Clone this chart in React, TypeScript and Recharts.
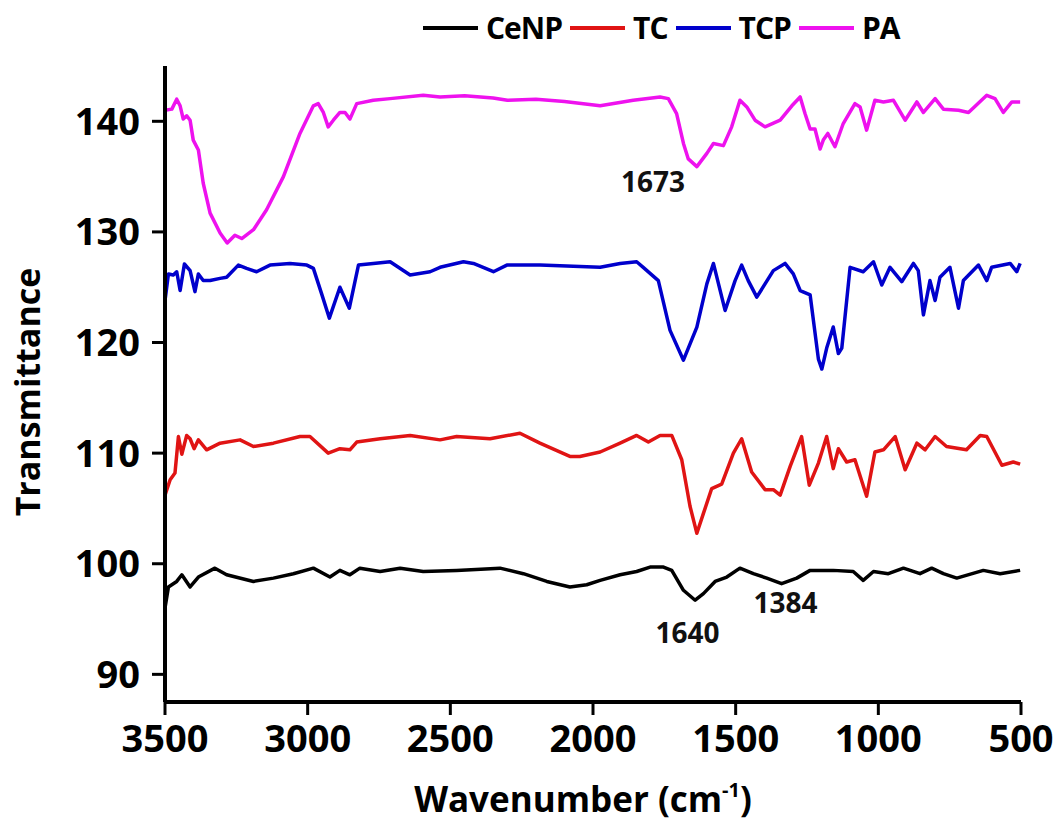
import React from "react";
import { LineChart, Line, XAxis, YAxis, ReferenceDot } from "recharts";

// FTIR spectra, [wavenumber cm-1, transmittance]
const CENP: [number, number][] = [
  [3500, 96.0], [3488, 97.9], [3459, 98.4], [3441, 99.0], [3412, 97.9], [3383, 98.8],
  [3325, 99.6], [3284, 99.0], [3190, 98.4], [3120, 98.7], [3050, 99.1], [2980, 99.6],
  [2922, 98.8], [2887, 99.4], [2852, 99.0], [2817, 99.6], [2746, 99.3], [2676, 99.6],
  [2595, 99.3], [2478, 99.4], [2326, 99.6], [2244, 99.1], [2162, 98.4], [2081, 97.9],
  [2022, 98.1], [1975, 98.5], [1905, 99.0], [1847, 99.3], [1800, 99.7], [1753, 99.7],
  [1724, 99.4], [1683, 97.6], [1642, 96.7], [1613, 97.3], [1572, 98.4], [1531, 98.8],
  [1485, 99.6], [1438, 99.1], [1391, 98.7], [1339, 98.2], [1286, 98.7], [1239, 99.4],
  [1158, 99.4], [1088, 99.3], [1053, 98.5], [1017, 99.3], [965, 99.1], [912, 99.6],
  [854, 99.1], [813, 99.6], [772, 99.1], [725, 98.7], [632, 99.4], [573, 99.1], [503, 99.4],
];

const TC: [number, number][] = [
  [3500, 106.2], [3482, 107.6], [3465, 108.2], [3453, 111.5], [3441, 109.9], [3424, 111.6],
  [3412, 111.3], [3398, 110.4], [3383, 111.2], [3354, 110.3], [3307, 110.9], [3237, 111.2],
  [3190, 110.6], [3120, 110.9], [3027, 111.5], [2992, 111.5], [2928, 110.0], [2887, 110.4],
  [2852, 110.3], [2828, 111.0], [2746, 111.3], [2641, 111.6], [2536, 111.2], [2478, 111.5],
  [2361, 111.3], [2256, 111.8], [2186, 110.9], [2081, 109.7], [2046, 109.7], [1975, 110.1],
  [1905, 110.9], [1847, 111.6], [1806, 111.0], [1765, 111.6], [1724, 111.6], [1689, 109.4],
  [1660, 105.2], [1636, 102.75], [1613, 104.55], [1584, 106.8], [1549, 107.2], [1508, 110.0],
  [1479, 111.3], [1444, 108.3], [1397, 106.7], [1368, 106.7], [1344, 106.2], [1309, 108.8],
  [1269, 111.5], [1242, 107.1], [1210, 109.1], [1181, 111.5], [1158, 108.6], [1140, 110.4],
  [1111, 109.2], [1082, 109.4], [1041, 106.1], [1012, 110.1], [982, 110.3], [941, 111.5],
  [906, 108.5], [865, 110.9], [836, 110.3], [801, 111.5], [761, 110.6], [691, 110.3],
  [643, 111.6], [620, 111.5], [567, 108.9], [527, 109.2], [503, 109.0],
];

const TCP: [number, number][] = [
  [3500, 123.8], [3488, 126.2], [3471, 126.1], [3459, 126.4], [3447, 124.7], [3432, 127.1],
  [3412, 126.5], [3395, 124.6], [3383, 126.2], [3366, 125.6], [3342, 125.6], [3307, 125.8],
  [3284, 125.9], [3243, 127.0], [3214, 126.7], [3179, 126.4], [3132, 127.0], [3062, 127.15],
  [3003, 127.0], [2980, 126.7], [2951, 124.4], [2924, 122.2], [2887, 125.0], [2854, 123.1],
  [2822, 127.0], [2770, 127.15], [2711, 127.3], [2641, 126.1], [2571, 126.4], [2536, 126.8],
  [2454, 127.3], [2419, 127.15], [2349, 126.4], [2302, 127.0], [2186, 127.0], [1975, 126.8],
  [1905, 127.15], [1847, 127.3], [1824, 126.8], [1771, 125.6], [1730, 121.1], [1683, 118.4],
  [1636, 121.4], [1601, 125.3], [1578, 127.15], [1537, 122.9], [1502, 125.6], [1479, 127.0],
  [1456, 125.6], [1426, 124.1], [1368, 126.5], [1327, 127.15], [1298, 126.2], [1274, 124.7],
  [1239, 124.3], [1210, 118.5], [1198, 117.6], [1181, 119.5], [1158, 121.4], [1140, 119.0],
  [1128, 119.5], [1099, 126.8], [1053, 126.4], [1017, 127.3], [988, 125.2], [959, 126.8],
  [918, 125.5], [877, 127.15], [860, 126.5], [842, 122.5], [819, 125.6], [801, 123.8],
  [784, 125.9], [749, 126.8], [719, 123.1], [702, 125.6], [649, 127.0], [620, 125.6],
  [603, 126.8], [538, 127.15], [515, 126.4], [503, 127.15],
];

const PA: [number, number][] = [
  [3500, 141.0], [3476, 141.1], [3459, 142.0], [3447, 141.4], [3436, 140.2], [3424, 140.5],
  [3412, 140.1], [3401, 138.3], [3383, 137.4], [3366, 134.4], [3342, 131.7], [3307, 129.9],
  [3282, 129.0], [3255, 129.7], [3231, 129.4], [3190, 130.2], [3144, 132.0], [3085, 135.0],
  [3027, 138.9], [2980, 141.4], [2963, 141.6], [2945, 140.8], [2928, 139.5], [2910, 140.1],
  [2887, 140.8], [2869, 140.8], [2852, 140.2], [2828, 141.6], [2770, 141.9], [2711, 142.05],
  [2595, 142.35], [2536, 142.2], [2450, 142.3], [2350, 142.1], [2300, 141.9], [2200, 142.0],
  [2100, 141.8], [1975, 141.4], [1859, 141.9], [1765, 142.2], [1736, 142.05], [1707, 140.7],
  [1683, 138.0], [1666, 136.6], [1636, 135.9], [1601, 137.1], [1578, 138.0], [1543, 137.8],
  [1514, 139.5], [1485, 141.9], [1461, 141.3], [1432, 140.1], [1397, 139.5], [1344, 140.1],
  [1303, 141.4], [1274, 142.2], [1257, 140.7], [1239, 139.3], [1222, 139.3], [1204, 137.5],
  [1193, 138.3], [1177, 138.9], [1152, 137.7], [1123, 139.8], [1082, 141.6], [1064, 141.3],
  [1041, 139.2], [1012, 141.9], [982, 141.75], [947, 141.9], [906, 140.1], [865, 141.75],
  [842, 140.8], [801, 142.05], [772, 141.1], [719, 141.0], [684, 140.8], [620, 142.35],
  [591, 142.05], [562, 140.8], [532, 141.75], [503, 141.75],
];

const SERIES = [
  { name: "CeNP", color: "#000000", points: CENP },
  { name: "TC", color: "#e01414", points: TC },
  { name: "TCP", color: "#0000cc", points: TCP },
  { name: "PA", color: "#ee12ee", points: PA },
];

const X_TICKS = [3500, 3000, 2500, 2000, 1500, 1000, 500];
const Y_TICKS = [90, 100, 110, 120, 130, 140];

// peak labels: text, wavenumber position, transmittance position
const NOTES: [string, number, number][] = [
  ["1673", 1790, 134.5],
  ["1640", 1669, 93.7],
  ["1384", 1325, 96.4],
];

const FONT = "'Open Sans', 'DejaVu Sans', sans-serif";

function XTitle({ viewBox }: any) {
  const cx = viewBox.x + viewBox.width / 2 - 10;
  return (
    <text x={cx} y={812} textAnchor="middle" fontFamily={FONT} fontWeight={700} fontSize={35} fill="#000">
      Wavenumber (cm
      <tspan dy={-15} fontSize={20}>-1</tspan>
      <tspan dy={15}>)</tspan>
    </text>
  );
}

function YTitle() {
  const cy = 392;
  return (
    <text
      x={40}
      y={cy}
      transform={`rotate(-90 40 ${cy})`}
      textAnchor="middle"
      fontFamily={FONT}
      fontWeight={700}
      fontSize={34}
      fill="#000"
    >
      Transmittance
    </text>
  );
}

const tickStyle = { fontSize: 38, fontWeight: 700, fill: "#000", fontFamily: FONT };

export default function App() {
  const lines = SERIES.map((s) => ({ ...s, data: s.points.map(([wn, t]) => ({ wn, t })) }));
  return (
    <div style={{ position: "absolute", left: 0, top: 0, width: 1061, height: 823, background: "#fff", fontFamily: FONT }}>
      <div style={{ position: "absolute", left: 423, top: 13, display: "flex", alignItems: "center" }}>
        {SERIES.map((s) => (
          <div key={s.name} style={{ display: "flex", alignItems: "center", marginRight: 8 }}>
            <span style={{ display: "inline-block", width: 55, height: 4, background: s.color, marginRight: 8 }} />
            <span style={{ fontSize: 30, fontWeight: 700, lineHeight: 1, color: "#000", letterSpacing: -1 }}>{s.name}</span>
          </div>
        ))}
      </div>
      <LineChart width={1061} height={823} margin={{ top: 66, right: 40, bottom: 0, left: 0 }}>
        <XAxis
          dataKey="wn"
          type="number"
          domain={[500, 3500]}
          reversed
          ticks={X_TICKS}
          interval={0}
          allowDuplicatedCategory={false}
          height={121}
          tickSize={13}
          tickMargin={10}
          tick={tickStyle}
          axisLine={{ stroke: "#000", strokeWidth: 4 }}
          tickLine={{ stroke: "#000", strokeWidth: 3 }}
          label={<XTitle />}
        />
        <XAxis xAxisId="top" orientation="top" dataKey="wn" type="number" domain={[500, 3500]} reversed height={0} tick={false} tickLine={false} axisLine={{ stroke: "#000", strokeWidth: 4 }} />
        <YAxis
          type="number"
          domain={[87.5, 145]}
          ticks={Y_TICKS}
          interval={0}
          width={165}
          tickSize={13}
          tickMargin={12}
          tick={tickStyle}
          axisLine={{ stroke: "#000", strokeWidth: 4 }}
          tickLine={{ stroke: "#000", strokeWidth: 3 }}
          label={<YTitle />}
        />
        <YAxis yAxisId="right" orientation="right" type="number" domain={[87.5, 145]} width={0} tick={false} tickLine={false} axisLine={{ stroke: "#000", strokeWidth: 4 }} />
        {lines.map((s) => (
          <Line
            key={s.name}
            data={s.data}
            dataKey="t"
            name={s.name}
            type="linear"
            stroke={s.color}
            strokeWidth={3.5}
            strokeLinejoin="round"
            dot={false}
            activeDot={false}
            isAnimationActive={false}
          />
        ))}
        {NOTES.map(([txt, wn, t]) => (
          <ReferenceDot
            key={txt}
            x={wn}
            y={t}
            r={0}
            fill="none"
            stroke="none"
            ifOverflow="visible"
            label={{ value: txt, position: "center", fill: "#111", fontSize: 28, fontWeight: 700, fontFamily: FONT }}
          />
        ))}
      </LineChart>
    </div>
  );
}
